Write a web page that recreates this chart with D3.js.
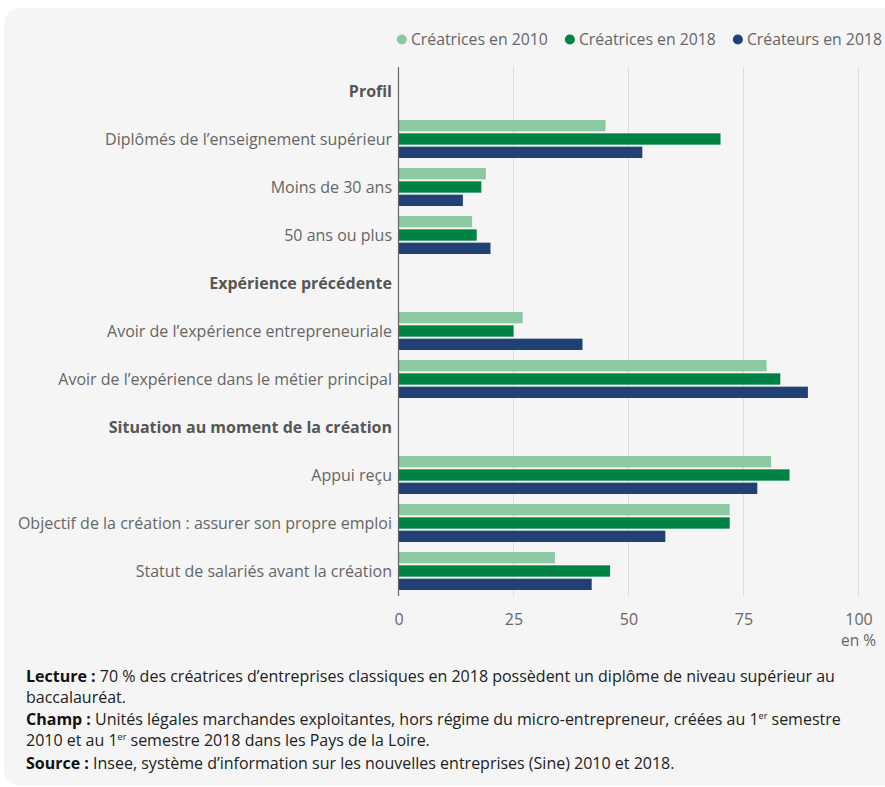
<!DOCTYPE html>
<html><head><meta charset="utf-8">
<script src="https://cdn.jsdelivr.net/npm/d3@7"></script>
<style>
body{margin:0;background:#fff;font-family:"Open Sans",sans-serif;}
</style></head>
<body>
<svg id="chart" width="885" height="787"></svg>
<script>
const categories = [
  "Profil",
  "Diplômés de l’enseignement supérieur",
  "Moins de 30 ans",
  "50 ans ou plus",
  "Expérience précédente",
  "Avoir de l’expérience entrepreneuriale",
  "Avoir de l’expérience dans le métier principal",
  "Situation au moment de la création",
  "Appui reçu",
  "Objectif de la création : assurer son propre emploi",
  "Statut de salariés avant la création"
];
const headers = ["Profil","Expérience précédente","Situation au moment de la création"];
const seriesNames = ["Créatrices en 2010","Créatrices en 2018","Créateurs en 2018"];
const creatrices2010 = [null,45,19,16,null,27,80,null,81,72,34];
const creatrices2018 = [null,70,18,17,null,25,83,null,85,72,46];
const createurs2018  = [null,53,14,20,null,40,89,null,78,58,42];
const seriesValues = [creatrices2010, creatrices2018, createurs2018];
const colors = ["#8cc9a2","#008244","#1f4173"];
const xTicks = [0,25,50,75,100];

const svg = d3.select("#chart");
svg.append("rect").attr("x",4).attr("y",8).attr("width",920).attr("height",778)
  .attr("rx",16).attr("fill","#f5f5f5");

const x = d3.scaleLinear().domain([0,100]).range([398.5,858.5]);
const y = d3.scaleBand().domain(categories).range([67,595]);
const ySub = d3.scaleBand().domain(seriesNames).range([0,y.bandwidth()])
  .paddingInner(0.15).paddingOuter(0.375);

// gridlines
svg.append("g").selectAll("line").data(xTicks.filter(d=>d>0)).join("line")
  .attr("x1",d=>x(d)).attr("x2",d=>x(d)).attr("y1",67).attr("y2",596)
  .attr("stroke","#dcdcdc").attr("stroke-width",1);

// bars
const groups = svg.append("g").selectAll("g").data(categories).join("g")
  .attr("transform",d=>`translate(0,${y(d)})`);
groups.selectAll("rect").data((c,i)=>seriesNames.map((s,j)=>({s,j,v:seriesValues[j][i]})).filter(d=>d.v!=null))
  .join("rect")
  .attr("x",x(0)).attr("y",d=>ySub(d.s))
  .attr("width",d=>x(d.v)-x(0)).attr("height",ySub.bandwidth())
  .attr("fill",d=>colors[d.j]);

// y axis line
svg.append("line").attr("x1",x(0)).attr("x2",x(0)).attr("y1",67).attr("y2",596)
  .attr("stroke","#666").attr("stroke-width",1.2);

// category labels
svg.append("g").selectAll("text").data(categories).join("text")
  .attr("x",392).attr("y",d=>y(d)+y.bandwidth()/2).attr("dy","0.35em")
  .attr("text-anchor","end")
  .attr("font-size","16px")
  .attr("font-weight",d=>headers.includes(d)?700:400)
  .attr("fill",d=>headers.includes(d)?"#555":"#666")
  .text(d=>d);

// x axis
const xAxis = svg.append("g").attr("transform","translate(0,596)")
  .call(d3.axisBottom(x).tickValues(xTicks).tickSize(0).tickPadding(18));
xAxis.select(".domain").remove();
xAxis.selectAll("text").attr("font-family","Open Sans").attr("font-size","16px").attr("fill","#666");
svg.append("text").attr("x",876).attr("y",646).attr("text-anchor","end")
  .attr("font-size","15.5px").attr("fill","#666").text("en %");

// legend
const legend = svg.append("g");
let lx = 882;
for (let j = seriesNames.length-1; j>=0; j--) {
  const t = legend.append("text").attr("y",45).attr("font-size","15.8px").attr("fill","#666")
    .attr("text-anchor","end").attr("x",lx).text(seriesNames[j]);
  const w = t.node().getComputedTextLength();
  const cx = lx - w - 9;
  legend.append("circle").attr("cx",cx).attr("cy",39.5).attr("r",5).attr("fill",colors[j]);
  lx = cx - 22;
}

// footnote
const notes = [
  [{b:"Lecture : "},{t:"70 % des créatrices d’entreprises classiques en 2018 possèdent un diplôme de niveau supérieur au"}],
  [{t:"baccalauréat."}],
  [{b:"Champ : "},{t:"Unités légales marchandes exploitantes, hors régime du micro-entrepreneur, créées au 1"},{s:"er"},{t:" semestre"}],
  [{t:"2010 et au 1"},{s:"er"},{t:" semestre 2018 dans les Pays de la Loire."}],
  [{b:"Source : "},{t:"Insee, système d’information sur les nouvelles entreprises (Sine) 2010 et 2018."}]
];
const noteY = [682,703,725,746,769];
notes.forEach((parts,i)=>{
  const t = svg.append("text").attr("x",26).attr("y",noteY[i]).attr("font-size","16px").attr("fill","#222");
  parts.forEach((p,k)=>{
    if (p.b) t.append("tspan").attr("font-weight",700).attr("fill","#111").text(p.b);
    else if (p.s) t.append("tspan").attr("font-size","9px").attr("dy",-6).text(p.s);
    else {
      const ts = t.append("tspan").text(p.t);
      if (k>0 && parts[k-1].s) ts.attr("dy",6);
    }
  });
});
</script>
</body></html>
